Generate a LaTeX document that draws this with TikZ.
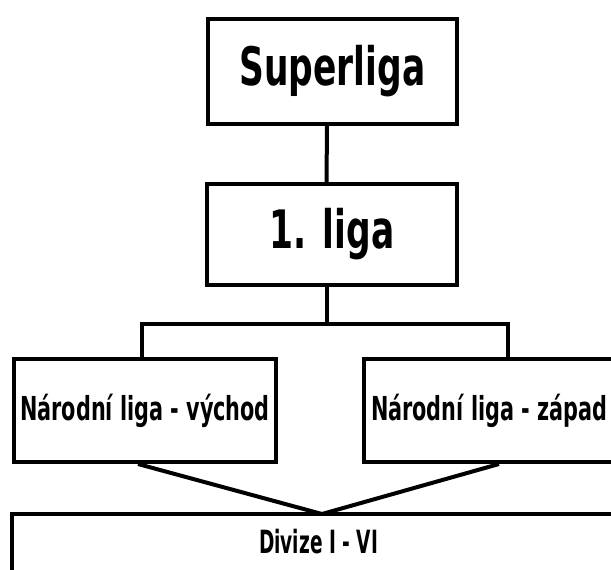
\documentclass[tikz,border=0pt]{standalone}
\usepackage{fontspec}
\setmainfont{DejaVu Sans}
\newfontfamily\bigfont{DejaVu Sans}[FakeStretch=0.65]
\newfontfamily\smallfont{DejaVu Sans}[FakeStretch=0.63]
\newfontfamily\divfont{DejaVu Sans}[FakeStretch=0.58]
\usetikzlibrary{calc}
\begin{document}
\begin{tikzpicture}[x=1pt,y=-1pt,line width=4pt,
  box/.style={draw=black,rectangle,inner sep=0pt},
  big/.style={font=\bigfont\bfseries\fontsize{53}{53}\selectfont},
  small/.style={font=\smallfont\bfseries\fontsize{33}{33}\selectfont}]
\useasboundingbox (0,0) rectangle (611,570);
\clip (0,0) rectangle (611,570);
\node [box,big,minimum width=249,minimum height=105] (superliga) at (332.5,71.5) {Superliga};
\node [box,big,minimum width=250,minimum height=101] (liga) at (332,234.5) {1. liga};
\node [box,small,minimum width=262,minimum height=103] (vychod) at (145,410.5) {Národní liga - východ};
\node [box,small,anchor=west,text width=320,inner xsep=7pt,align=flush left,minimum height=103] (zapad) at (362,410.5) {Národní liga - západ};
\node [box,anchor=north west,minimum width=640,minimum height=100] (divize) at (10,512) {};
\node [font=\divfont\bfseries\fontsize{32}{32}\selectfont] (divizetext) at (318.5,541.5) {Divize I - VI};
\coordinate (fork) at (327,324);
\coordinate (meet) at (322,514);
\draw [black] ([xshift=-5.5pt]superliga.south) -- ([xshift=-5.5pt]liga.north);
\draw [black] ([xshift=-5pt]liga.south) -- (fork);
\draw [black] ([xshift=-3pt]vychod.north) |- (fork) -| ([xshift=146pt]zapad.north west);
\draw [black] ([xshift=-7pt]vychod.south) -- (meet);
\draw [black] ([xshift=137pt]zapad.south west) -- (meet);
\end{tikzpicture}
\end{document}
